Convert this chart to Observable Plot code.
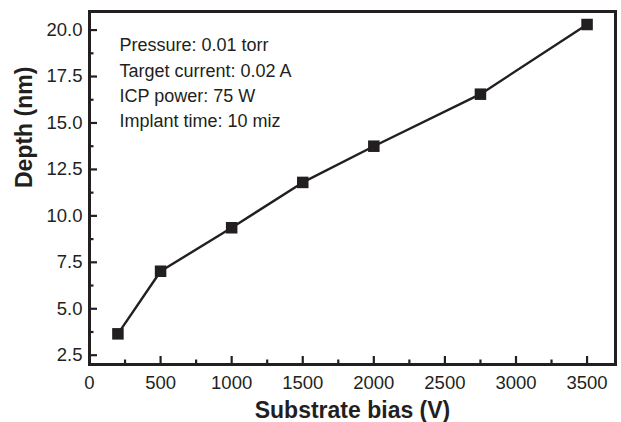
<!DOCTYPE html>
<html>
<head>
<meta charset="utf-8">
<script src="https://cdn.jsdelivr.net/npm/d3@7"></script>
<script src="https://cdn.jsdelivr.net/npm/@observablehq/plot@0.6"></script>
<style>
  html, body { margin: 0; padding: 0; background: #fff; }
</style>
</head>
<body>
<div id="chart"></div>
<script>
const bias = [200, 500, 1000, 1500, 2000, 2750, 3500];
const depth = [3.65, 7.02, 9.36, 11.8, 13.75, 16.55, 20.3];
const xMajor = [0, 500, 1000, 1500, 2000, 2500, 3000, 3500];
const xMinor = [250, 750, 1250, 1750, 2250, 2750, 3250];
const yMajor = [2.5, 5.0, 7.5, 10.0, 12.5, 15.0, 17.5, 20.0];
const yMinor = [3.75, 6.25, 8.75, 11.25, 13.75, 16.25, 18.75];
const noteLines = ["Pressure: 0.01 torr", "Target current: 0.02 A", "ICP power: 75 W", "Implant time: 10 miz"];
const xLabel = "Substrate bias (V)";
const yLabel = "Depth (nm)";

const data = bias.map((b, i) => ({bias: b, depth: depth[i]}));
const ink = "#231f20";
const W = 621, H = 422, mL = 89, mR = 6, mT = 11, mB = 58;
const innerW = W - mL - mR, innerH = H - mT - mB;

const chart = Plot.plot({
  width: W,
  height: H,
  marginLeft: mL,
  marginRight: mR,
  marginTop: mT,
  marginBottom: mB,
  style: {fontFamily: "'Liberation Sans', Arial, Helvetica, sans-serif", fontSize: "18px", color: ink, background: "#fff"},
  x: {domain: [0, 3700]},
  y: {domain: [2, 21]},
  marks: [
    Plot.axisX(xMajor, {tickSize: 0, tickPadding: 11, tickFormat: d => String(d), label: null, fill: ink, fontSize: 18.5}),
    Plot.axisY(yMajor, {tickSize: 0, tickPadding: 7, tickFormat: d => d.toFixed(1), label: null, fill: ink, fontSize: 18.5}),
    Plot.tickX(xMajor, {x: d => d, insetTop: innerH - 8, stroke: ink, strokeWidth: 2.2}),
    Plot.tickX(xMinor, {x: d => d, insetTop: innerH - 4.5, stroke: ink, strokeWidth: 2.2}),
    Plot.tickY(yMajor, {y: d => d, insetRight: innerW - 8, stroke: ink, strokeWidth: 2.2}),
    Plot.tickY(yMinor, {y: d => d, insetRight: innerW - 4.5, stroke: ink, strokeWidth: 2.2}),
    Plot.line(data, {x: "bias", y: "depth", stroke: ink, strokeWidth: 2.4}),
    Plot.dot(data, {x: "bias", y: "depth", symbol: "square", r: 6.5, fill: ink, stroke: null}),
    Plot.text([noteLines.join("\n")], {frameAnchor: "top-left", textAnchor: "start", lineAnchor: "top", dx: 30, dy: 22, lineHeight: 1.4, fontSize: 18, fill: ink}),
    Plot.text([xLabel], {frameAnchor: "bottom", lineAnchor: "middle", dy: 46, fontSize: 23, fontWeight: "bold", fill: ink}),
    Plot.text([yLabel], {frameAnchor: "left", lineAnchor: "middle", rotate: -90, dx: -65, fontSize: 23, fontWeight: "bold", fill: ink}),
    Plot.frame({stroke: ink, strokeWidth: 3})
  ]
});
document.getElementById("chart").appendChild(chart);
</script>
</body>
</html>
